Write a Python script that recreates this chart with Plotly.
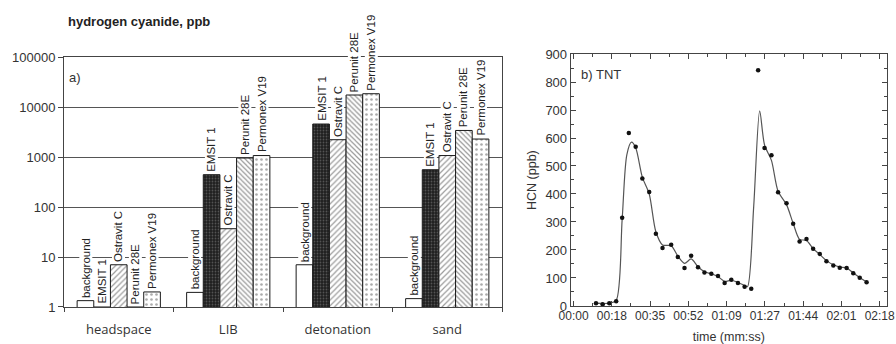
import numpy as np
import plotly.graph_objects as go

# ---------------- data: panel a) ----------------
groups = ["headspace", "LIB", "detonation", "sand"]
series_names = ["background", "EMSIT 1", "Ostravit C", "Perunit 28E", "Permonex V19"]
background = [1.34, 1.96, 7.0, 1.47]
emsit_1 = [1.0, 443, 4570, 557]
ostravit_c = [7.0, 36.8, 2220, 1070]
perunit_28e = [1.0, 955, 17400, 3400]
permonex_v19 = [2.0, 1070, 18450, 2290]
y_ticks_a = [1, 10, 100, 1000, 10000, 100000]

# ---------------- data: panel b) ----------------
time_s = [10.1, 13.1, 16.1, 19.2, 21.9, 24.9, 28.0, 31.0, 34.1, 37.1, 40.1, 44.0,
          47.0, 50.0, 53.0, 56.1, 59.0, 62.1, 65.1, 68.1, 71.1, 74.1, 77.1, 80.1,
          83.2, 86.1, 89.2, 92.2, 96.0, 99.0, 101.9, 105.0, 108.0, 111.0, 114.0,
          117.1, 120.0, 123.1, 126.1, 129.0, 132.1]
hcn_ppb = [10, 6, 10, 17, 315, 618, 569, 455, 407, 258, 207, 219,
           175, 136, 179, 138, 120, 115, 107, 82, 94, 82, 69, 62,
           842, 564, 538, 406, 367, 294, 230, 239, 204, 186, 160,
           145, 137, 136, 117, 101, 85]
fit_t = [10.1, 16.1, 19.2, 21.9, 24.0, 26.1, 28.0, 31.0, 34.1, 37.1, 40.1, 44.0,
         47.0, 50.0, 53.0, 56.1, 59.0, 62.1, 65.1, 68.1, 71.1, 74.1, 77.1, 78.4,
         81.2, 83.9, 86.1, 89.2, 92.2, 96.0, 99.0, 101.9, 105.0, 108.0, 111.0,
         114.0, 117.1, 120.0, 123.1, 126.1, 129.0, 132.1]
fit_y = [10, 10, 20, 310, 540, 585, 565, 460, 400, 265, 218, 215,
         178, 152, 168, 140, 122, 115, 105, 88, 92, 84, 73, 69,
         355, 697, 575, 520, 410, 362, 295, 238, 234, 205, 184,
         162, 147, 139, 136, 118, 102, 86]
time_tickvals = [0, 17.25, 34.5, 51.75, 69, 86.25, 103.5, 120.75, 138]
time_ticktext = ["00:00", "00:18", "00:35", "00:52", "01:09", "01:27", "01:44", "02:01", "02:18"]

values = [background, emsit_1, ostravit_c, perunit_28e, permonex_v19]
styles = [
    dict(color="white"),
    dict(color="#1e1e1e", pattern=dict(shape=".", fgcolor="#8a8a8a", bgcolor="#1e1e1e", size=3, solidity=0.3)),
    dict(color="white", pattern=dict(shape="/", fgcolor="#3a3a3a", bgcolor="white", size=4, solidity=0.3)),
    dict(color="white", pattern=dict(shape="\\", fgcolor="#3a3a3a", bgcolor="white", size=3.5, solidity=0.35)),
    dict(color="white", pattern=dict(shape=".", fgcolor="#555", bgcolor="white", size=5, solidity=0.22)),
]

AX = "#444"
BASE_FONT = "Liberation Sans, Arial, sans-serif"

fig = go.Figure()
bargap = 0.24
for name, vals, st in zip(series_names, values, styles):
    fig.add_trace(go.Bar(
        x=groups, y=vals, name=name, xaxis="x", yaxis="y",
        marker=dict(line=dict(color="#1a1a1a", width=1), **st),
        showlegend=False, hoverinfo="skip",
    ))

# bar labels (white boxed, rotated) at bar tops
bw = (1 - bargap) / len(series_names)
for j, (name, vals) in enumerate(zip(series_names, values)):
    for g, v in enumerate(vals):
        fig.add_annotation(
            x=g + (j - (len(series_names) - 1) / 2) * bw, y=np.log10(v),
            xref="x", yref="y", text=name, showarrow=False, textangle=-90,
            xanchor="center", yanchor="bottom", yshift=2,
            bgcolor="white", borderpad=0,
            font=dict(family=BASE_FONT, size=11.5, color="#222"),
        )

# panel b)
fig.add_trace(go.Scatter(
    x=fit_t, y=fit_y, mode="lines", xaxis="x2", yaxis="y2",
    line=dict(color="#555", width=1.2, shape="spline", smoothing=0.8),
    showlegend=False, hoverinfo="skip",
))
fig.add_trace(go.Scatter(
    x=time_s, y=hcn_ppb, mode="markers", xaxis="x2", yaxis="y2",
    marker=dict(color="#111", size=4.5),
    showlegend=False, hoverinfo="skip",
))

L, R, T, B = 64, 9, 54, 37
FIG_W, FIG_H = 896, 344
W_PLOT, H_PLOT = FIG_W - L - R, FIG_H - T - B

fig.update_layout(
    width=FIG_W, height=FIG_H,
    margin=dict(l=L, r=R, t=T, b=B, autoexpand=False),
    paper_bgcolor="white", plot_bgcolor="white",
    font=dict(family=BASE_FONT, color="#333"),
    barmode="group", bargap=bargap, bargroupgap=0,
    xaxis=dict(
        domain=[0, 438 / W_PLOT], type="category", tickson="boundaries",
        ticks="outside", ticklen=4, tickcolor=AX, showline=True, linecolor=AX,
        linewidth=1, mirror=True, showgrid=False, range=[-0.5, 3.5],
        tickfont=dict(family="Open Sans, Liberation Sans, sans-serif", size=13, color="#333"),
        ticklabelstandoff=10, automargin=False,
    ),
    yaxis=dict(
        domain=[0, 0.988], type="log", range=[0, 5],
        tickvals=y_ticks_a, ticktext=[str(v) for v in y_ticks_a],
        ticks="outside", ticklen=5, tickcolor=AX, showline=True, linecolor=AX,
        linewidth=1, mirror=True, showgrid=True, gridcolor="#555", gridwidth=1,
        tickfont=dict(size=13, color="#333"), zeroline=False, automargin=False,
    ),
    xaxis2=dict(
        domain=[(570.7 - L) / W_PLOT, 1], anchor="y2", range=[-1.3, 141.3],
        tickvals=time_tickvals, ticktext=time_ticktext,
        ticks="inside", ticklen=5, tickcolor=AX, showline=True, linecolor=AX,
        linewidth=1, mirror="allticks", showgrid=False, zeroline=False,
        minor=dict(ticks="inside", ticklen=3, tickcolor=AX, tickmode="linear",
                   tick0=0, dtick=8.625),
        tickfont=dict(size=12, color="#333"), ticklabeloverflow="allow",
        ticklabelstandoff=-1, automargin=False,
        title=dict(text="time (mm:ss)", font=dict(size=12.5, color="#333"), standoff=11),
    ),
    yaxis2=dict(
        domain=[0.004, 1], anchor="x2", range=[0, 900], dtick=100,
        ticks="inside", ticklen=5, tickcolor=AX, showline=True, linecolor=AX,
        linewidth=1, mirror="allticks", showgrid=False, zeroline=False,
        minor=dict(ticks="inside", ticklen=3, tickcolor=AX, dtick=50),
        tickfont=dict(size=13, color="#333"), automargin=False,
    ),
)

fig.add_annotation(x=(66 - L) / W_PLOT, xref="paper", y=1 + (T - 21) / H_PLOT, yref="paper",
                   text="<b>hydrogen cyanide, ppb</b>", showarrow=False,
                   font=dict(size=13, color="#222"), xanchor="left", yanchor="middle")
fig.add_annotation(x=(532 - L) / W_PLOT, xref="paper", y=0.5, yref="y2 domain",
                   text="HCN (ppb)", textangle=-90, showarrow=False,
                   font=dict(size=12.5, color="#333"), xanchor="center", yanchor="middle")
fig.add_annotation(x=0.006, xref="x domain", y=0.92, yref="y domain", text="a)",
                   showarrow=False, font=dict(size=13, color="#333"), xanchor="left", yanchor="middle")
fig.add_annotation(x=0.026, xref="x2 domain", y=0.918, yref="y2 domain", text="b) TNT",
                   showarrow=False, font=dict(size=13, color="#333"), xanchor="left", yanchor="middle")

# remove the browser's default 8px body margin so the figure fills the window exactly
fig.write_html("out.html", config={"displayModeBar": False},
               post_script="document.body.style.margin='0';")
